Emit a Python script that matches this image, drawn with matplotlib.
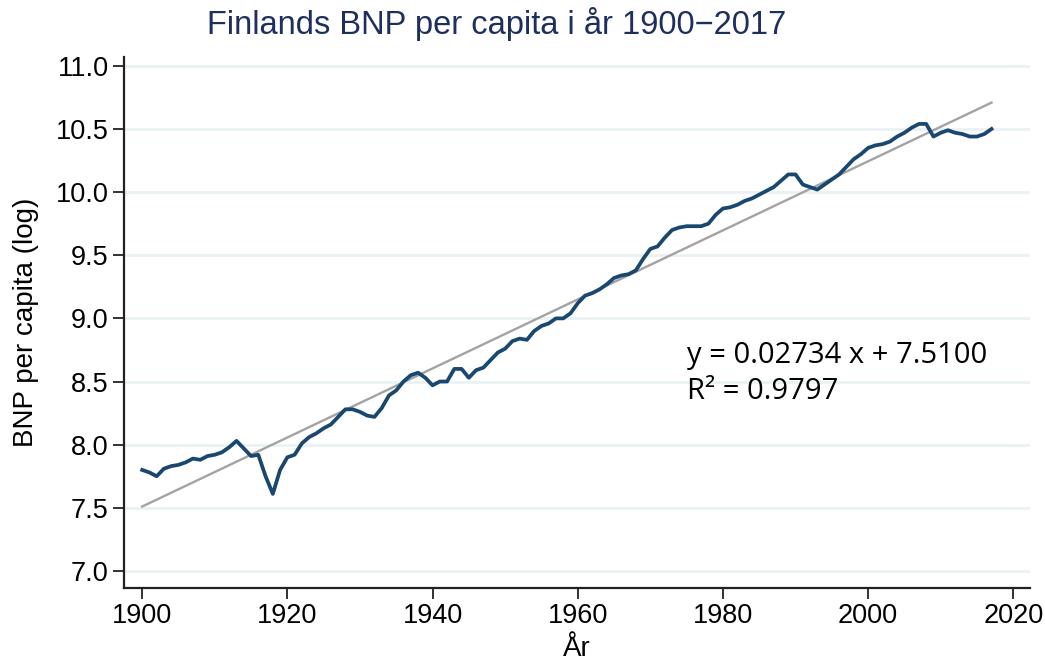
import numpy as np
import matplotlib
matplotlib.use("Agg")
import matplotlib.pyplot as plt

plt.rcParams['font.family'] = ['Liberation Sans', 'DejaVu Sans']

# Finlands BNP per capita (log), 1900-2017
years = np.arange(1900, 2018)
bnp_log = [
    7.80, 7.78, 7.75, 7.81, 7.83, 7.84, 7.86, 7.89, 7.88, 7.91,   # 1900-1909
    7.92, 7.94, 7.98, 8.03, 7.97, 7.91, 7.92, 7.75, 7.61, 7.80,   # 1910-1919
    7.90, 7.92, 8.01, 8.06, 8.09, 8.13, 8.16, 8.22, 8.28, 8.28,   # 1920-1929
    8.26, 8.23, 8.22, 8.29, 8.39, 8.43, 8.50, 8.55, 8.57, 8.53,   # 1930-1939
    8.47, 8.50, 8.50, 8.60, 8.60, 8.53, 8.59, 8.61, 8.67, 8.73,   # 1940-1949
    8.76, 8.82, 8.84, 8.83, 8.90, 8.94, 8.96, 9.00, 9.00, 9.04,   # 1950-1959
    9.12, 9.18, 9.20, 9.23, 9.27, 9.32, 9.34, 9.35, 9.38, 9.47,   # 1960-1969
    9.55, 9.57, 9.64, 9.70, 9.72, 9.73, 9.73, 9.73, 9.75, 9.82,   # 1970-1979
    9.87, 9.88, 9.90, 9.93, 9.95, 9.98, 10.01, 10.04, 10.09, 10.14,  # 1980-1989
    10.14, 10.06, 10.04, 10.02, 10.06, 10.10, 10.14, 10.20, 10.26, 10.30,  # 1990-1999
    10.35, 10.37, 10.38, 10.40, 10.44, 10.47, 10.51, 10.54, 10.54, 10.44,  # 2000-2009
    10.47, 10.49, 10.47, 10.46, 10.44, 10.44, 10.46, 10.50,   # 2010-2017
]

# trendlinje: y = b * (år - 1900) + a
trend_b = 0.02734
trend_a = 7.5100
r2 = 0.9797

fig = plt.figure(figsize=(10.45, 6.66), dpi=100)
ax = fig.add_axes([124/1045, 1 - 588/666, (1030-124)/1045, (588-57)/666])

trend = trend_b * (years - 1900) + trend_a
ax.plot(years, trend, color='#a3a3a3', lw=1.7, zorder=2)
ax.plot(years, bnp_log, color='#1a476f', lw=2.7, zorder=3, solid_joinstyle='round')

ax.set_xlim(1897.5, 2022.3)
ax.set_ylim(6.865, 11.07)
ax.set_xticks(np.arange(1900, 2021, 20))
ax.set_yticks(np.arange(7.0, 11.01, 0.5))
ax.set_yticklabels([f"{v:.1f}" for v in np.arange(7.0, 11.01, 0.5)])
ax.yaxis.grid(True, color='#eaf2f3', lw=2)
ax.set_axisbelow(True)
for s in ['top', 'right']:
    ax.spines[s].set_visible(False)
for s in ['left', 'bottom']:
    ax.spines[s].set_linewidth(1.6)
    ax.spines[s].set_color('#222222')
ax.tick_params(axis='both', labelsize=19.5, length=8, width=1.3, color='#222222', pad=3)

ax.set_ylabel('BNP per capita (log)', fontsize=20, labelpad=12)
ax.set_xlabel('År', fontsize=20, labelpad=5)

fig.text(497/1045, 1 - 24/666, 'Finlands BNP per capita i år 1900\u22122017',
         ha='center', va='center', fontsize=23.5, color='#1e2f5e')

ax.text(1975, 8.71, f"y = {trend_b:.5f} x + {trend_a:.4f}", fontsize=21,
        family=['Open Sans', 'DejaVu Sans'], va='center', ha='left')
ax.text(1975, 8.42, f"R² = {r2:.4f}", fontsize=21,
        family=['Open Sans', 'DejaVu Sans'], va='center', ha='left')

fig.savefig('out.png', dpi=100)
